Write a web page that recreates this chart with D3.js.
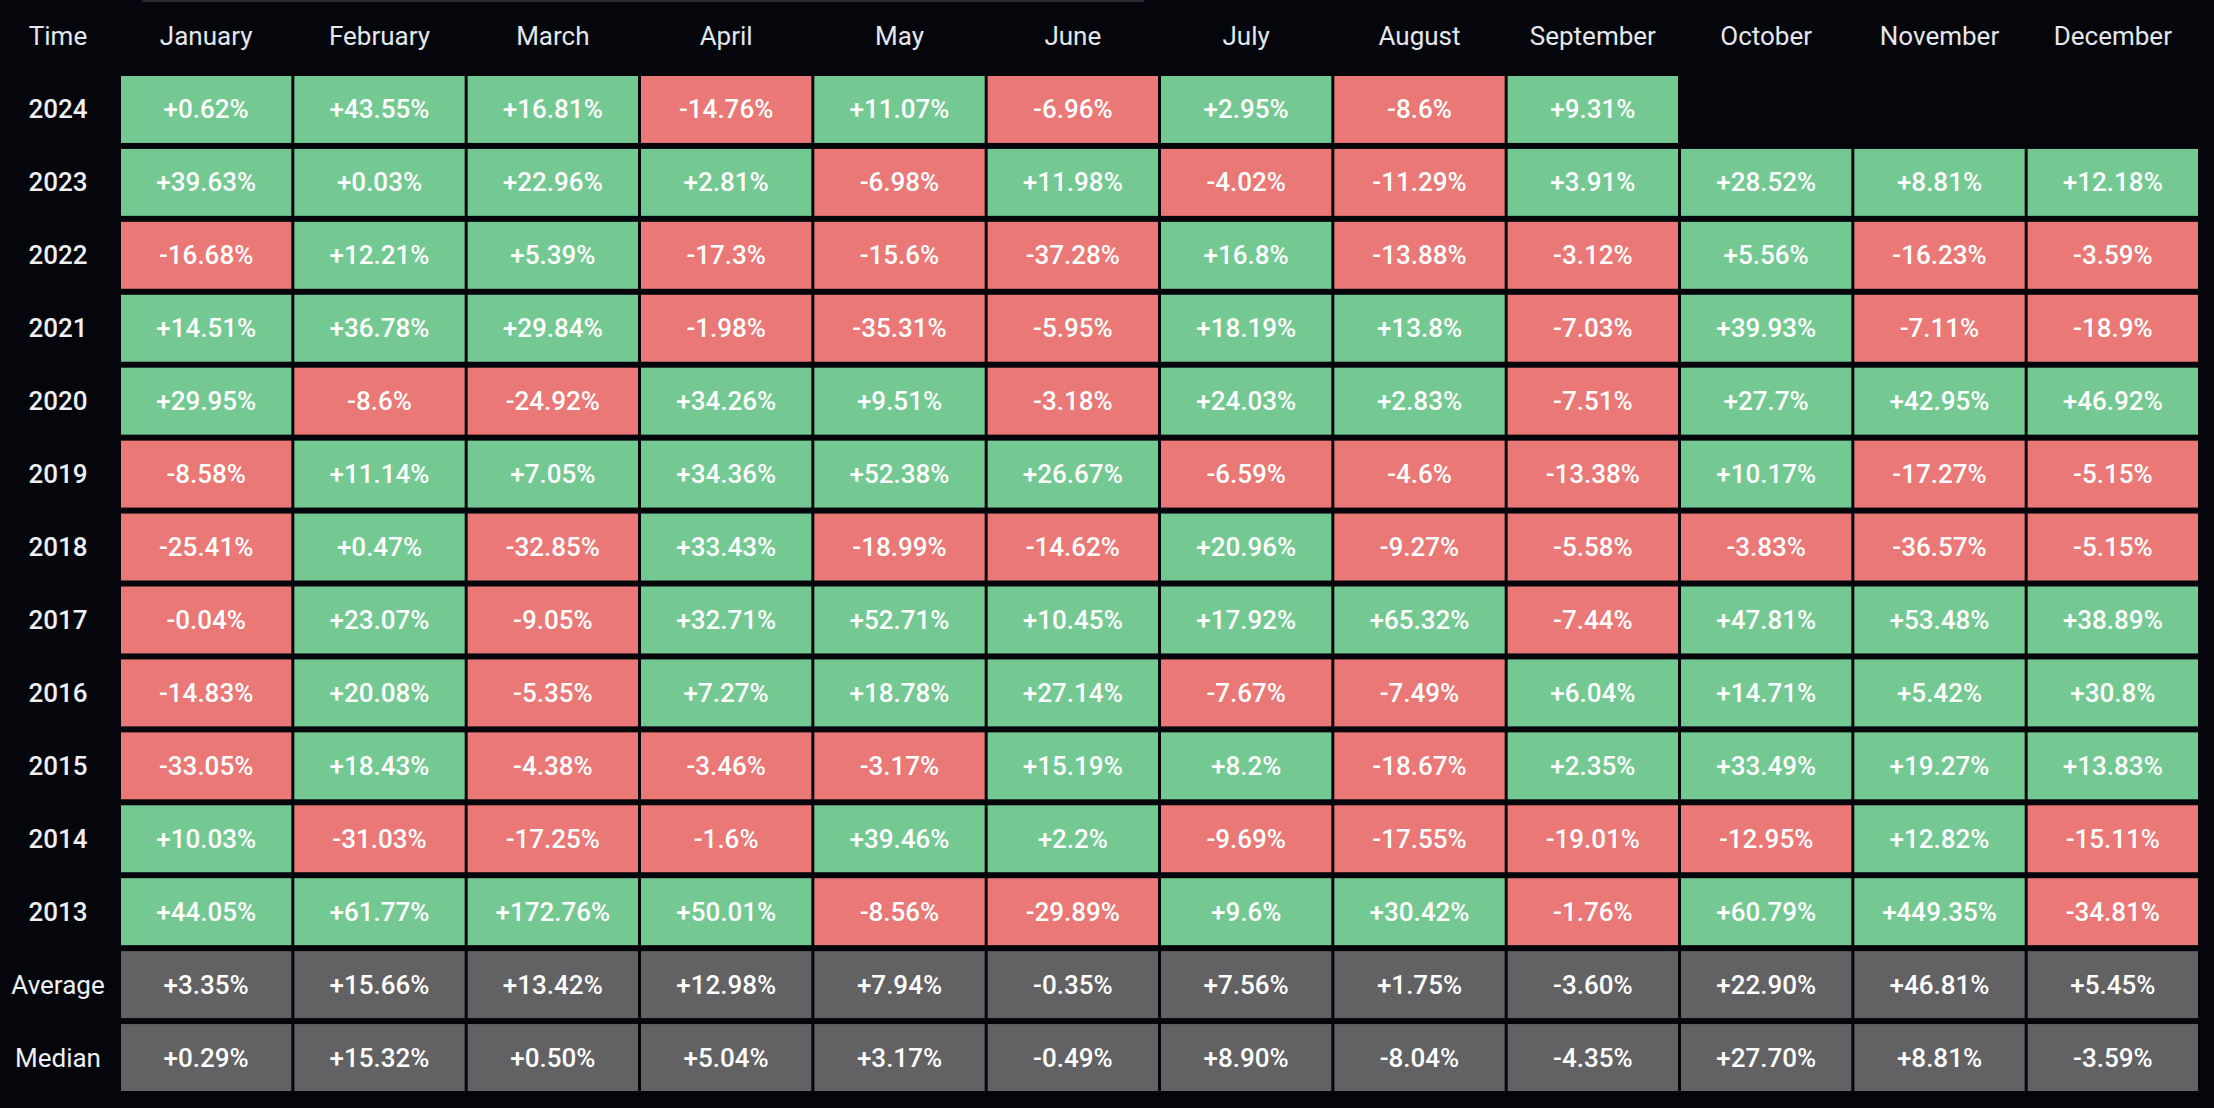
<!DOCTYPE html>
<html>
<head>
<meta charset="utf-8">
<script src="https://cdn.jsdelivr.net/npm/d3@7"></script>
<style>
  html, body { margin: 0; padding: 0; background: #05060b; overflow: hidden; }
  svg text { font-family: Roboto, "Noto Sans", sans-serif; }
</style>
</head>
<body>
<svg id="graph"></svg>
<script>
const months = ['January','February','March','April','May','June','July','August','September','October','November','December'];
const rowLabels = ['2024','2023','2022','2021','2020','2019','2018','2017','2016','2015','2014','2013','Average','Median'];

// monthly returns per year, % (null = no data yet)
const r2024 = [0.62, 43.55, 16.81, -14.76, 11.07, -6.96, 2.95, -8.6, 9.31, null, null, null];
const r2023 = [39.63, 0.03, 22.96, 2.81, -6.98, 11.98, -4.02, -11.29, 3.91, 28.52, 8.81, 12.18];
const r2022 = [-16.68, 12.21, 5.39, -17.3, -15.6, -37.28, 16.8, -13.88, -3.12, 5.56, -16.23, -3.59];
const r2021 = [14.51, 36.78, 29.84, -1.98, -35.31, -5.95, 18.19, 13.8, -7.03, 39.93, -7.11, -18.9];
const r2020 = [29.95, -8.6, -24.92, 34.26, 9.51, -3.18, 24.03, 2.83, -7.51, 27.7, 42.95, 46.92];
const r2019 = [-8.58, 11.14, 7.05, 34.36, 52.38, 26.67, -6.59, -4.6, -13.38, 10.17, -17.27, -5.15];
const r2018 = [-25.41, 0.47, -32.85, 33.43, -18.99, -14.62, 20.96, -9.27, -5.58, -3.83, -36.57, -5.15];
const r2017 = [-0.04, 23.07, -9.05, 32.71, 52.71, 10.45, 17.92, 65.32, -7.44, 47.81, 53.48, 38.89];
const r2016 = [-14.83, 20.08, -5.35, 7.27, 18.78, 27.14, -7.67, -7.49, 6.04, 14.71, 5.42, 30.8];
const r2015 = [-33.05, 18.43, -4.38, -3.46, -3.17, 15.19, 8.2, -18.67, 2.35, 33.49, 19.27, 13.83];
const r2014 = [10.03, -31.03, -17.25, -1.6, 39.46, 2.2, -9.69, -17.55, -19.01, -12.95, 12.82, -15.11];
const r2013 = [44.05, 61.77, 172.76, 50.01, -8.56, -29.89, 9.6, 30.42, -1.76, 60.79, 449.35, -34.81];
const average = [3.35, 15.66, 13.42, 12.98, 7.94, -0.35, 7.56, 1.75, -3.60, 22.90, 46.81, 5.45];
const median = [0.29, 15.32, 0.50, 5.04, 3.17, -0.49, 8.90, -8.04, -4.35, 27.70, 8.81, -3.59];

const rows = [r2024, r2023, r2022, r2021, r2020, r2019, r2018, r2017, r2016, r2015, r2014, r2013, average, median];

const w = 2214;
const h = 1108;
const colGap = 3;
const rowGap = 6;

const svg = d3.select('#graph').attr('width', w).attr('height', h);

svg.append('rect').attr('width', w).attr('height', h).attr('fill', '#05060b');
// thin strip left over at the very top
svg.append('rect').attr('x', 142).attr('y', 0).attr('width', 1002).attr('height', 2).attr('fill', '#262932');

const xScale = d3.scaleBand().domain(months).range([121, 2201]);
const yScale = d3.scaleBand().domain(rowLabels).range([76, 1097]);

function fmt(v, fixed){
  const s = fixed ? Math.abs(v).toFixed(2) : String(Math.abs(v));
  return (v >= 0 ? '+' : '-') + s + '%';
}
function fill(v, label){
  if(label === 'Average' || label === 'Median') return '#626264';
  return v >= 0 ? '#74c993' : '#ea7876';
}

// header
svg.append('text')
  .attr('x', 58).attr('y', 36)
  .attr('text-anchor', 'middle').attr('dominant-baseline', 'central')
  .attr('fill', '#e4e7ec').attr('font-size', 26)
  .text('Time');
svg.selectAll('.month')
  .data(months)
  .enter().append('text')
  .attr('class', 'month')
  .attr('x', d => xScale(d) + (xScale.bandwidth() - colGap) / 2)
  .attr('y', 36)
  .attr('text-anchor', 'middle').attr('dominant-baseline', 'central')
  .attr('fill', '#e4e7ec').attr('font-size', 26)
  .text(d => d);

// row labels
svg.selectAll('.rowlabel')
  .data(rowLabels)
  .enter().append('text')
  .attr('class', 'rowlabel')
  .attr('x', 58)
  .attr('y', d => yScale(d) + (yScale.bandwidth() - rowGap) / 2)
  .attr('text-anchor', 'middle').attr('dominant-baseline', 'central')
  .attr('fill', '#eef0f3').attr('font-size', 26)
  .attr('font-weight', d => isNaN(+d) ? 400 : 500)
  .text(d => d);

// cells
const cells = [];
rows.forEach((vals, i) => {
  vals.forEach((v, j) => {
    if(v === null) return;
    cells.push({row: rowLabels[i], month: months[j], value: v});
  });
});

const g = svg.selectAll('.cell')
  .data(cells)
  .enter().append('g')
  .attr('class', 'cell');

g.append('rect')
  .attr('x', d => xScale(d.month))
  .attr('y', d => yScale(d.row))
  .attr('width', xScale.bandwidth() - colGap)
  .attr('height', yScale.bandwidth() - rowGap)
  .attr('fill', d => fill(d.value, d.row));

g.append('text')
  .attr('x', d => xScale(d.month) + (xScale.bandwidth() - colGap) / 2)
  .attr('y', d => yScale(d.row) + (yScale.bandwidth() - rowGap) / 2)
  .attr('text-anchor', 'middle').attr('dominant-baseline', 'central')
  .attr('fill', '#ffffff').attr('font-size', 26).attr('font-weight', 500)
  .text(d => fmt(d.value, d.row === 'Average' || d.row === 'Median'));
</script>
</body>
</html>
